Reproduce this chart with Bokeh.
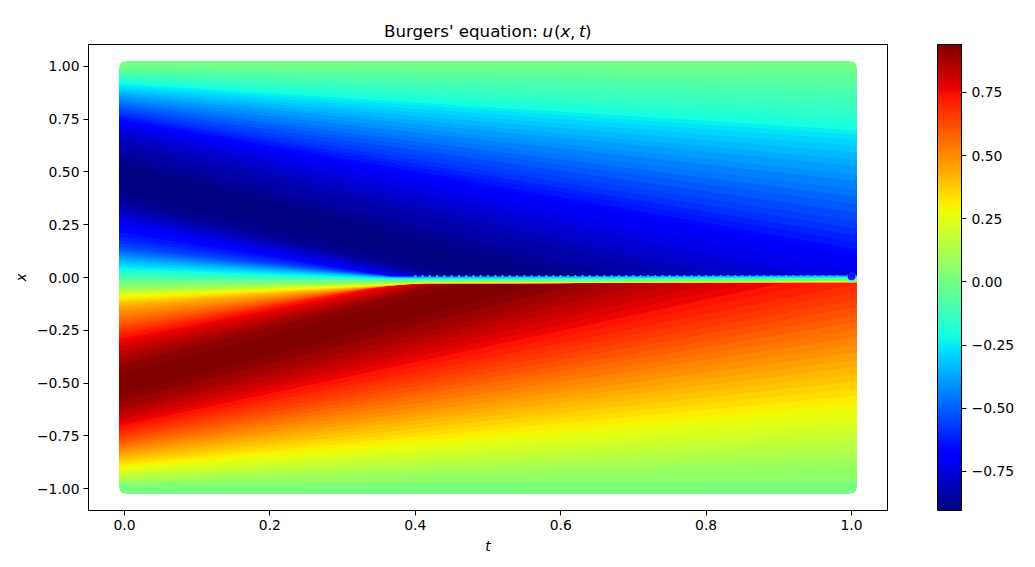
from bokeh.core.properties import value
from bokeh.embed import file_html
from bokeh.layouts import column
from bokeh.resources import INLINE
from bokeh.plotting import figure
from bokeh.models import ColorBar, ColumnDataSource, FixedTicker, LinearColorMapper, Range1d

# --- values ------------------------------------------------------------------
# Iso-value curves of u(x, t): each starts at (t=0, x) and runs straight until it reaches
# the shock at t_meet (or t=1), then follows the shock to its end position at t=1.
up_levels = [.025, .05, .075, .10, .125, .15, .175, .20, .225, .25, .275, .30, .325, .35, .375, .40, .425, .45,
             .475, .50, .525, .55, .575, .60, .625, .65, .675, .70, .725, .75, .775, .80, .825, .85, .875, .90]
lo_levels = up_levels + [.925]

up_in_x = [-.020, -.014, -.007, 0, .006, .012, .021, .03, .038, .047, .054, .062, .071, .08, .087, .095, .102, .11,
           .118, .127, .136, .145, .16, .175, .192, .21, .227, .245, .262, .28, .295, .31, .33, .35, .38, .42]
up_in_t = [.36, .36, .36, .36, .365, .365, .37, .37, .37, .375, .375, .375, .375, .375, .37, .37, .37, .37,
           .37, .37, .37, .37, .37, .37, .37, .37, .37, .37, .38, .39, .40, .41, .42, .43, .45, .49]
up_clamp = [-.010, -.009, -.008, -.007, -.006, -.005, -.004, -.003, -.002, -.001, 0, .001, .002, .003, .004, .004, .005, .005,
            .006, .006, .007, .007, .007, .008, .008, .008, .008, .008, .008, .008, .008, .008, .008, .008, .008, .008]

up_out_x = [.991, .9825, .974, .965, .956, .947, .938, .9295, .92, .911, .902, .893, .884, .874, .865, .855, .845, .835,
            .825, .815, .804, .793, .782, .771, .763, .755, .745, .735, .72, .705, .685, .66, .635, .59, .56, .53]
up_out_t = [1, 1, 1, 1, 1, 1, 1, 1, 1, 1, 1, 1, 1, 1, 1, 1, 1, 1,
            1, 1, 1, 1, 1, 1, 1, 1, 1, 1, 1, .95, .884, .825, .77, .694, .64, .59]
up_out_end = [.975, .945, .91, .87, .83, .79, .755, .725, .70, .68, .655, .625, .595, .56, .53, .49, .46, .42,
              .385, .35, .31, .27, .235, .20, .17, .135, .115, .095, .03, .008, .008, .008, .008, .008, .008, .008]

lo_in_x = [-.034, -.04, -.046, -.052, -.058, -.063, -.068, -.07, -.076, -.082, -.088, -.095, -.101, -.108, -.115, -.122, -.131, -.14,
           -.152, -.165, -.178, -.19, -.204, -.218, -.229, -.24, -.252, -.265, -.277, -.29, -.307, -.325, -.345, -.365, -.387, -.41, -.455]
lo_in_t = [.40, .40, .41, .41, .42, .42, .42, .42, .42, .42, .42, .42, .42, .41, .41, .41, .40, .40,
           .40, .39, .39, .38, .38, .38, .38, .38, .37, .37, .37, .38, .39, .40, .41, .42, .43, .44, .47]
lo_clamp = [-.011, -.012, -.012, -.013, -.013, -.014, -.014, -.015, -.015, -.016, -.016, -.017, -.017, -.018, -.018, -.019, -.019, -.02,
            -.02, -.02, -.02, -.02, -.02, -.02, -.02, -.02, -.02, -.02, -.02, -.02, -.02, -.02, -.02, -.02, -.02, -.02, -.02]

lo_out_x = [-.992, -.985, -.975, -.966, -.958, -.949, -.94, -.932, -.923, -.914, -.905, -.897, -.888, -.879, -.87, -.86, -.851, -.841,
            -.831, -.821, -.811, -.801, -.79, -.78, -.768, -.757, -.745, -.733, -.72, -.706, -.692, -.676, -.658, -.64, -.62, -.593, -.56]
lo_out_t = [1, 1, 1, 1, 1, 1, 1, 1, 1, 1, 1, 1, 1, 1, 1, 1, 1, 1,
            1, 1, 1, 1, 1, 1, 1, 1, 1, 1, .966, .915, .867, .82, .773, .73, .686, .637, .585]
lo_out_end = [-.98, -.955, -.905, -.866, -.833, -.799, -.765, -.732, -.698, -.664, -.63, -.597, -.562, -.5285, -.494, -.46, -.425, -.391,
              -.356, -.321, -.286, -.251, -.215, -.18, -.143, -.107, -.07, -.033, -.02, -.02, -.02, -.02, -.02, -.02, -.02, -.02, -.02]

shock_dip = -.010
tooth_t = [.40, .41, .42, .43, .44, .45, .46, .47, .48, .49, .50, .51, .52, .53, .54, .55, .56, .57, .58, .59, .60, .61, .62, .63, .64, .65,
           .66, .67, .68, .69, .70, .71, .72, .73, .74, .75, .76, .77, .78, .79, .80, .81, .82, .83, .84, .85, .86, .87, .88,
           .89, .90, .91, .92, .93, .94, .95, .96, .97, .98]
tooth_x = .006
u_min, u_max = -.905, .94
x_edge = 1.0
x_ticks = [0.0, 0.2, 0.4, 0.6, 0.8, 1.0]
y_ticks = [-1.0, -.75, -.5, -.25, 0.0, .25, .5, .75, 1.0]
cb_ticks = [-.75, -.5, -.25, 0.0, .25, .5, .75]
title_parts = ["Burgers' equation: ", "u", "(", "x", ",", "t", ")"]
title_styles = ["normal", "italic", "normal", "italic", "normal", "italic", "normal"]


def jet(n=256):
    def ramp(f, pts):
        for (a, va), (b, vb) in zip(pts, pts[1:]):
            if f <= b:
                return va + (vb - va) * (f - a) / (b - a)
        return pts[-1][1]
    r = [(0, 0), (.35, 0), (.66, 1), (.89, 1), (1, .5)]
    g = [(0, 0), (.125, 0), (.375, 1), (.64, 1), (.91, 0), (1, 0)]
    b = [(0, .5), (.11, 1), (.34, 1), (.65, 0), (1, 0)]
    out = []
    for i in range(n):
        f = i / (n - 1)
        out.append("#%02x%02x%02x" % tuple(round(255 * ramp(f, c)) for c in (r, g, b)))
    return out


PALETTE = jet()
PAD_T = 5 / 727
PAD_X = 5 / 211
t_a, t_b = -PAD_T, 1 + PAD_T


def curve(x0, tm, end):
    if tm >= 1:
        return [t_a, t_b], [x0, end]
    return [t_a, tm, t_b], [x0, end + shock_dip * (1 - tm), end]


curves = [(([t_a, t_b], [x_edge + PAD_X, x_edge + PAD_X]), 0.0)]
curves += [(curve(x, t, e), -l) for x, t, e, l in zip(up_out_x, up_out_t, up_out_end, up_levels)]
curves += [(curve(x, t, e), -l) for x, t, e, l in reversed(list(zip(up_in_x, up_in_t, up_clamp, up_levels)))]
curves += [(curve(x, t, e), l) for x, t, e, l in zip(lo_in_x, lo_in_t, lo_clamp, lo_levels)]
curves += [(curve(x, t, e), l) for x, t, e, l in reversed(list(zip(lo_out_x, lo_out_t, lo_out_end, lo_levels)))]
curves += [(([t_a, t_b], [-x_edge - PAD_X, -x_edge - PAD_X]), 0.0)]

xs, ys, us = [], [], []
for ((ta, xa), ua), ((tb, xb), ub) in zip(curves, curves[1:]):
    xs.append(ta + tb[::-1])
    ys.append(xa + xb[::-1])
    if ua == ub and ua != 0:
        us.append(u_min if ua < 0 else u_max)
    else:
        us.append((ua + ub) / 2)
order = sorted(range(len(us)), key=lambda i: -abs(us[i]))
src = ColumnDataSource(dict(xs=[xs[i] for i in order], ys=[ys[i] for i in order], u=[us[i] for i in order]))

mapper = LinearColorMapper(palette=PALETTE, low=u_min, high=u_max)
col_of = lambda u: PALETTE[int(255 * (u - u_min) / (u_max - u_min))]

p = figure(width=1019, height=507, output_backend="svg", toolbar_location=None,
           x_range=Range1d(-.0495, 1.0495), y_range=Range1d(-1.104, 1.104),
           frame_width=799, frame_height=466, min_border_left=88, min_border_top=0,
           min_border_right=0, min_border_bottom=41, background_fill_color="white")
p.grid.visible = False

p.patches("xs", "ys", source=src, fill_color={"field": "u", "transform": mapper},
          line_color={"field": "u", "transform": mapper}, line_width=1)

# saw-tooth of the sampled shock and the blob at its end
p.scatter(tooth_t, [tooth_x] * len(tooth_t), size=2.5, marker="circle", fill_color=col_of(-.3), line_color=None)
p.scatter([1.0], [-.002], size=10, marker="circle", fill_color=col_of(-.02), line_color=None)
p.scatter([1.0], [.006], size=8, marker="circle", fill_color=col_of(-.62), line_color=None)

# rounded corners of the marker cloud
c_t = [0.0, 1.0, 0.0, 1.0]
c_x = [x_edge, x_edge, -x_edge, -x_edge]
p.rect(x=[t + (-PAD_T / 2 if t == 0 else PAD_T / 2) for t in c_t],
       y=[x + (PAD_X / 2 if x > 0 else -PAD_X / 2) for x in c_x],
       width=PAD_T + .002, height=PAD_X + .006, fill_color="white", line_color="white", line_width=1)
p.scatter(c_t, c_x, size=10, marker="circle", fill_color=col_of(0.0), line_color=None)

FS = "13.9px"
for ax in (p.xaxis[0], p.yaxis[0]):
    ax.major_label_text_font = "DejaVu Sans"
    ax.major_label_text_font_size = FS
    ax.major_label_text_color = "black"
    ax.axis_label_text_font = "DejaVu Sans"
    ax.axis_label_text_font_size = FS
    ax.axis_label_text_font_style = "italic"
    ax.axis_label_text_color = "black"
    ax.axis_line_color = "black"
    ax.major_tick_line_color = "black"
    ax.major_tick_in = 0
    ax.major_tick_out = 5
    ax.minor_tick_line_color = None
    ax.major_label_standoff = 4
p.xaxis[0].axis_label = "t"
p.yaxis[0].axis_label = "x"
p.xaxis[0].ticker = FixedTicker(ticks=x_ticks)
p.xaxis[0].major_label_overrides = {t: "%.1f" % t for t in x_ticks}
p.yaxis[0].ticker = FixedTicker(ticks=y_ticks)
p.yaxis[0].major_label_overrides = {t: ("%.2f" % t).replace("-", "\u2212") for t in y_ticks}
p.outline_line_color = "black"
p.outline_line_alpha = 1

cb = ColorBar(color_mapper=mapper, width=24, height=466, location=(50, 0), margin=0, padding=0,
              ticker=FixedTicker(ticks=cb_ticks),
              major_label_overrides={t: ("%.2f" % t).replace("-", "\u2212") for t in cb_ticks},
              major_label_text_font="DejaVu Sans", major_label_text_font_size=FS, major_label_text_color="black",
              major_tick_in=0, major_tick_out=5, major_tick_line_color="black", minor_tick_line_color=None,
              bar_line_color="black", border_line_color=None, background_fill_color=None, label_standoff=5)
p.add_layout(cb, "right")

# title strip above the plot, its frame lined up with the plot's frame
head = figure(width=1019, height=44, output_backend="svg", toolbar_location=None,
              x_range=Range1d(88, 887), y_range=Range1d(0, 44), frame_width=799, frame_height=44,
              min_border_left=88, min_border_right=0, min_border_top=0, min_border_bottom=0,
              outline_line_color=None)
head.axis.visible = False
head.grid.visible = False
title_px = [383.5, 542, 553.5, 560, 569.5, 578.5, 584.5]
for text, px, style in zip(title_parts, title_px, title_styles):
    head.text(x=[px], y=[44 - 31], text=[text], text_font=value("DejaVu Sans"), text_font_size="16.67px",
              text_font_style=style, text_color="black", text_baseline="middle", text_align="left")

open("out.html", "w").write(file_html(column(head, p, spacing=0), INLINE))
